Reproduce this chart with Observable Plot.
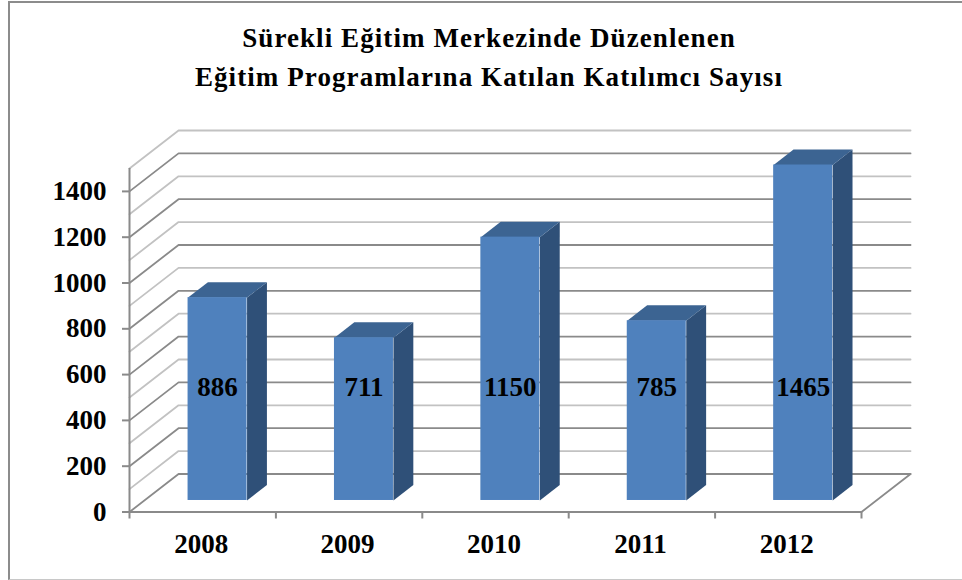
<!DOCTYPE html>
<html><head><meta charset="utf-8">
<script src="https://cdn.jsdelivr.net/npm/d3@7"></script>
<script src="https://cdn.jsdelivr.net/npm/@observablehq/plot@0.6"></script>
<style>
html,body{margin:0;padding:0;background:#fff}
#page{position:relative;width:962px;height:580px;overflow:hidden;background:#fff;font-family:"Liberation Serif",serif}
#border{position:absolute;left:8px;top:1px;width:960px;height:579px;border-left:2.5px solid #8c8c8c;border-top:2.5px solid #8c8c8c;border-bottom:1px solid #c8c8c8;box-sizing:border-box}
#title{position:absolute;left:0;top:19px;width:978px;text-align:center;font-weight:bold;font-size:27px;line-height:39px;color:#000;letter-spacing:1.08px}
#chart{position:absolute;left:0;top:120px}
svg{background:transparent;overflow:visible}
</style></head><body>
<div id="page"><div id="border"></div>
<div id="title">Sürekli Eğitim Merkezinde Düzenlenen<br>Eğitim Programlarına Katılan Katılımcı Sayısı</div>
<div id="chart"></div></div>
<script>
const years = [2008, 2009, 2010, 2011, 2012];
const participants = [886, 711, 1150, 785, 1465];
const yTicks = [0, 200, 400, 600, 800, 1000, 1200, 1400];
const gridLevels = d3.range(0, 1600, 100);

const xMin = 2007.5, xMax = 2012.5, yMax = 1500;
const depthX = 0.335, depthY = 166;        // depth of the 3D wall, in data units
const barHalf = 0.2015, barFront = 0.303, barBack = 0.708; // bar placement within the depth

const at = (x, y, d) => ({x: x + d * depthX, y: y + d * depthY});

const gridRows = gridLevels.flatMap(v => [
  {level: v, ...at(xMin, v, 0)},
  {level: v, ...at(xMin, v, 1)},
  {level: v, ...at(xMax, v, 1)}
]);
const isDark = d => d.level % 200 === 0;
const bars = years.map((year, i) => ({year, value: participants[i]}));

const topFace = bars.flatMap(b => [
  {year: b.year, ...at(b.year - barHalf, b.value, barFront)},
  {year: b.year, ...at(b.year + barHalf, b.value, barFront)},
  {year: b.year, ...at(b.year + barHalf, b.value, barBack)},
  {year: b.year, ...at(b.year - barHalf, b.value, barBack)}
]);
const sideFace = bars.flatMap(b => [
  {year: b.year, ...at(b.year + barHalf, 0, barFront)},
  {year: b.year, ...at(b.year + barHalf, b.value, barFront)},
  {year: b.year, ...at(b.year + barHalf, b.value, barBack)},
  {year: b.year, ...at(b.year + barHalf, 0, barBack)}
]);
const frontFace = bars.map(b => {
  const p0 = at(b.year - barHalf, 0, barFront), p1 = at(b.year + barHalf, b.value, barFront);
  return {x1: p0.x, x2: p1.x, y1: p0.y, y2: p1.y};
});
const floorEdge = [at(xMax, 0, 0), at(xMax, 0, 1)];
const font = {fontFamily: "Liberation Serif", fontWeight: "bold", fontSize: 27, fill: "#000"};

const chart = Plot.plot({
  width: 962, height: 460,
  marginLeft: 129, marginRight: 101, marginTop: 48, marginBottom: 68.5,
  x: {type: "linear", domain: [xMin, xMax]},
  y: {domain: [0, yMax]},
  style: {background: "transparent", overflow: "visible"},
  marks: [
    Plot.line(gridRows.filter(d => !isDark(d)), {x: "x", y: "y", z: "level", stroke: "#c2c2c2", strokeWidth: 1.8}),
    Plot.line(gridRows.filter(isDark), {x: "x", y: "y", z: "level", stroke: "#8a8a8a", strokeWidth: 1.8}),
    Plot.line(floorEdge, {x: "x", y: "y", stroke: "#8a8a8a", strokeWidth: 1.8}),
    Plot.ruleX([xMin], {y1: 0, y2: yMax, stroke: "#8a8a8a", strokeWidth: 2}),
    Plot.ruleY([0], {x1: xMin, x2: xMax, stroke: "#8a8a8a", strokeWidth: 2}),
    Plot.axisY({ticks: yTicks, tickSize: 7, tickPadding: 16, stroke: "#8a8a8a", strokeWidth: 2, strokeOpacity: 1,
      label: null, tickFormat: d => String(d), ...font, textStroke: "none"}),
    Plot.axisX({ticks: d3.range(xMin, xMax + 1), tickSize: 7, stroke: "#8a8a8a", strokeWidth: 2, strokeOpacity: 1,
      label: null, tickFormat: () => ""}),
    Plot.text(years, {x: d => d, y: 0, text: d => String(d), dx: -1.5, dy: 32, ...font}),
    Plot.line(sideFace, {x: "x", y: "y", z: "year", fill: "#2f5078", stroke: "none"}),
    Plot.line(topFace, {x: "x", y: "y", z: "year", fill: "#3c6492", stroke: "none"}),
    Plot.rect(frontFace, {x1: "x1", x2: "x2", y1: "y1", y2: "y2", fill: "#4f81bd", inset: 0}),
    Plot.text(bars, {x: d => d.year + barFront * depthX, y: 0, text: d => String(d.value), dy: -125, ...font})
  ]
});
document.getElementById("chart").appendChild(chart);
</script>
</body></html>
